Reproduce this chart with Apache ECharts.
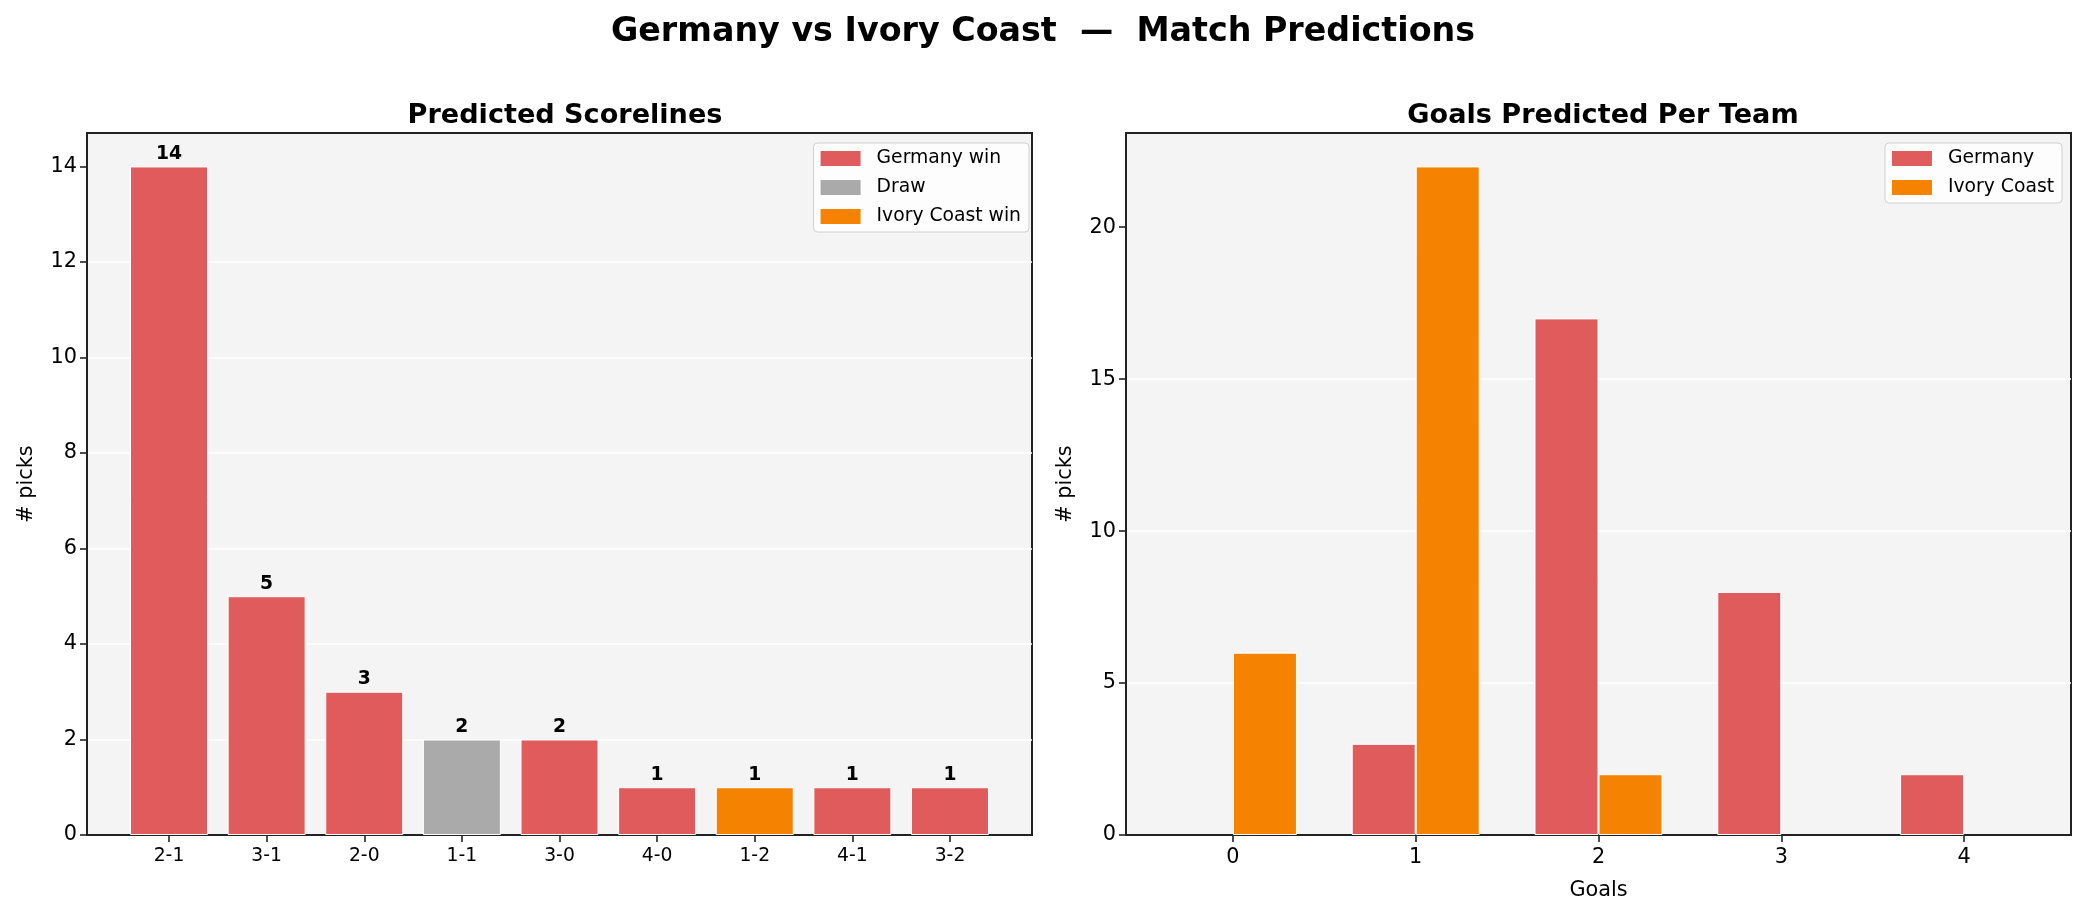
<!DOCTYPE html>
<html>
<head>
<meta charset="utf-8">
<script src="https://cdn.jsdelivr.net/npm/echarts@6/dist/echarts.min.js"></script>
<style>html,body{margin:0;padding:0;background:#fff;}#c{width:2086px;height:916px;}</style>
</head>
<body>
<div id="c"></div>
<script>
// ---- data ----
const scorelines = ['2-1','3-1','2-0','1-1','3-0','4-0','1-2','4-1','3-2'];
const scoreCounts = [14, 5, 3, 2, 2, 1, 1, 1, 1];
const scoreOutcome = ['Germany win','Germany win','Germany win','Draw','Germany win','Germany win','Ivory Coast win','Germany win','Germany win'];
const outcomeNames = ['Germany win','Draw','Ivory Coast win'];
const goalsCats = [0, 1, 2, 3, 4];
const germanyGoals = [0, 3, 17, 8, 2];
const ivoryGoals = [6, 22, 2, 0, 0];
const leftYTicks = [0, 2, 4, 6, 8, 10, 12, 14];
const rightYTicks = [0, 5, 10, 15, 20];

// ---- style ----
const FONT = 'DejaVu Sans';
const RED = '#E05C5C', GREY = '#AAAAAA', ORANGE = '#F58200';
const outcomeColor = {'Germany win': RED, 'Draw': GREY, 'Ivory Coast win': ORANGE};
const AX = '#222222';

const chart = echarts.init(document.getElementById('c'), null, {renderer: 'canvas'});

function yAxisCfg(gridIndex, max, ticks) {
  return {
    type: 'value', gridIndex: gridIndex, min: 0, max: max,
    name: '# picks', nameLocation: 'middle', nameGap: 50, nameRotate: 90,
    nameTextStyle: {fontFamily: FONT, fontSize: 20.8, color: '#000'},
    axisLine: {show: true, onZero: false, lineStyle: {color: AX, width: 2}},
    axisTick: {show: true, length: 7, lineStyle: {color: AX, width: 1.6}, customValues: ticks},
    axisLabel: {fontFamily: FONT, fontSize: 20.8, color: '#000', margin: 10, customValues: ticks},
    splitLine: {show: true, showMinLine: false, showMaxLine: false, lineStyle: {color: '#ffffff', width: 1.6}}
  };
}

const leftSeries = outcomeNames.map(function (name) {
  const data = [];
  scorelines.forEach(function (s, i) {
    if (scoreOutcome[i] === name) data.push([i, scoreCounts[i]]);
  });
  return {
    name: name, type: 'bar', xAxisIndex: 0, yAxisIndex: 0,
    data: data, barWidth: 78, barGap: '-100%',
    itemStyle: {color: outcomeColor[name], borderColor: '#fff', borderWidth: 1},
    label: {show: true, position: 'top', distance: 3, fontFamily: FONT, fontWeight: 'bold',
      fontSize: 18.75, color: '#000', formatter: function (p) { return p.value[1]; }}
  };
});

const rightSeries = [
  {name: 'Germany', data: germanyGoals, color: RED},
  {name: 'Ivory Coast', data: ivoryGoals, color: ORANGE}
].map(function (s) {
  return {
    name: s.name, type: 'bar', xAxisIndex: 1, yAxisIndex: 1,
    data: goalsCats.map(function (g, i) {
      const v = s.data[i];
      return v === 0 ? {value: [g, v], itemStyle: {borderWidth: 0, opacity: 0}} : [g, v];
    }),
    barWidth: 64, barGap: '0%',
    itemStyle: {color: s.color, borderColor: '#fff', borderWidth: 1}
  };
});

const legendCommon = {
  orient: 'vertical', top: 143, itemWidth: 40, itemHeight: 15, itemGap: 10,
  icon: 'rect', padding: [6, 8, 6, 7],
  backgroundColor: 'rgba(255,255,255,0.8)', borderColor: '#d0d0d0', borderWidth: 1, borderRadius: 4,
  itemStyle: {borderWidth: 0, opacity: 1},
  textStyle: {fontFamily: FONT, fontSize: 18.75, color: '#000', padding: [0, 0, 0, 11]}
};

chart.setOption({
  animation: false,
  backgroundColor: '#ffffff',
  title: [
    {text: 'Germany vs Ivory Coast  —  Match Predictions', left: 'center', top: 11,
      textStyle: {fontFamily: FONT, fontSize: 33.3, fontWeight: 'bold', color: '#000'}},
    {text: 'Predicted Scorelines', left: 560, textAlign: 'center', top: 97,
      textStyle: {fontFamily: FONT, fontSize: 27.1, fontWeight: 'bold', color: '#000'}},
    {text: 'Goals Predicted Per Team', left: 1598, textAlign: 'center', top: 97,
      textStyle: {fontFamily: FONT, fontSize: 27.1, fontWeight: 'bold', color: '#000'}}
  ],
  legend: [
    Object.assign({}, legendCommon, {right: 1057, data: outcomeNames}),
    Object.assign({}, legendCommon, {right: 24, data: ['Germany', 'Ivory Coast']})
  ],
  grid: [
    {left: 87, top: 133, width: 945, height: 702, show: true, backgroundColor: '#f4f4f4',
      borderColor: AX, borderWidth: 2},
    {left: 1126, top: 133, width: 945, height: 702, show: true, backgroundColor: '#f4f4f4',
      borderColor: AX, borderWidth: 2}
  ],
  xAxis: [
    {type: 'value', gridIndex: 0, min: -0.84, max: 8.84,
      axisLine: {show: true, onZero: false, lineStyle: {color: AX, width: 2}},
      axisTick: {show: true, length: 7, lineStyle: {color: AX, width: 1.6}, customValues: scorelines.map(function (s, i) { return i; })},
      axisLabel: {fontFamily: FONT, fontSize: 18.75, color: '#000', margin: 12,
        customValues: scorelines.map(function (s, i) { return i; }),
        formatter: function (v) { return scorelines[Math.round(v)]; }},
      splitLine: {show: false}},
    {type: 'value', gridIndex: 1, min: -0.585, max: 4.585,
      name: 'Goals', nameLocation: 'middle', nameGap: 45,
      nameTextStyle: {fontFamily: FONT, fontSize: 20.8, color: '#000'},
      axisLine: {show: true, onZero: false, lineStyle: {color: AX, width: 2}},
      axisTick: {show: true, length: 7, lineStyle: {color: AX, width: 1.6}, customValues: goalsCats},
      axisLabel: {fontFamily: FONT, fontSize: 20.8, color: '#000', margin: 12,
        customValues: goalsCats, formatter: function (v) { return String(Math.round(v)); }},
      splitLine: {show: false}}
  ],
  yAxis: [
    yAxisCfg(0, 14.7, leftYTicks),
    yAxisCfg(1, 23.1, rightYTicks)
  ],
  series: leftSeries.concat(rightSeries)
});
</script>
</body>
</html>
